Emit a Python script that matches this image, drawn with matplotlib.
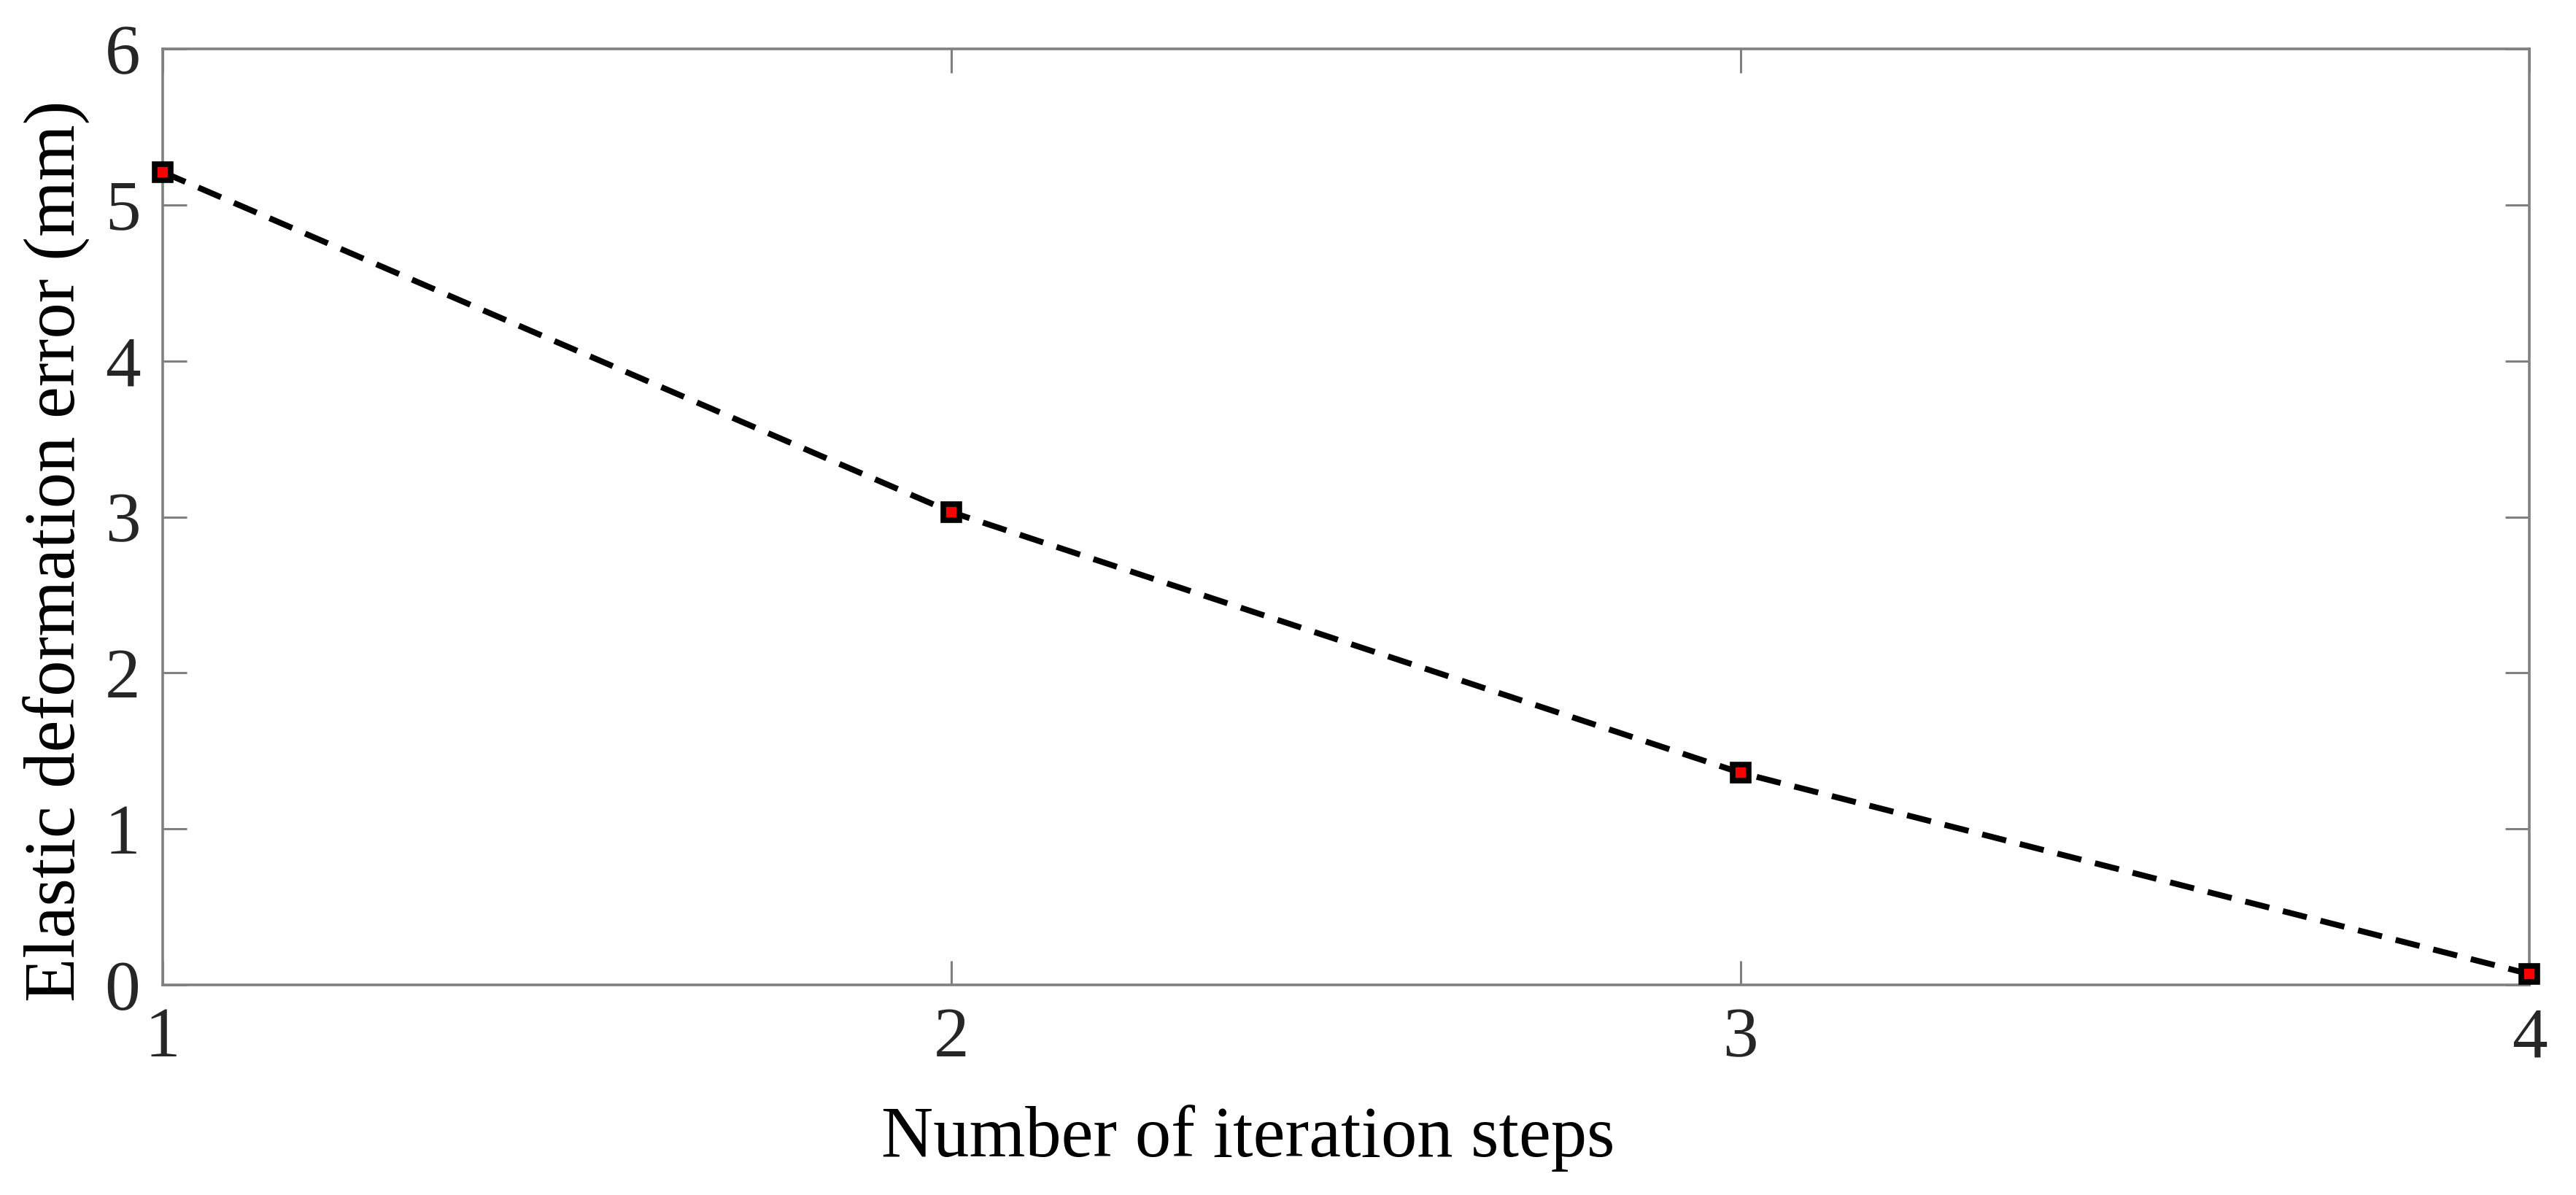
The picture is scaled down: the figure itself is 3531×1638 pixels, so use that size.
import matplotlib.pyplot as plt

# Data
steps = [1, 2, 3, 4]
error_mm = [5.21, 3.03, 1.36, 0.07]
x_ticks = [1, 2, 3, 4]
y_ticks = [0, 1, 2, 3, 4, 5, 6]

plt.rcParams['font.family'] = ['Liberation Serif', 'DejaVu Serif']

fig = plt.figure(figsize=(35.31, 16.38), dpi=100)
W, H = 3531, 1638
left, right, top, bottom = 223, 3467, 67, 1350
ax = fig.add_axes([left / W, 1 - bottom / H, (right - left) / W, (bottom - top) / H])

ax.plot(steps, error_mm, color='black', linewidth=5.8, dashes=(4.2, 2.4),
        marker='s', markersize=16, markerfacecolor='red',
        markeredgecolor='black', markeredgewidth=5.5, clip_on=False, zorder=3)

ax.set_xlim(1, 4)
ax.set_ylim(0, 6)
ax.set_xticks(x_ticks)
ax.set_yticks(y_ticks)
ax.tick_params(direction='in', length=24, width=2.2, color='#808080',
               labelsize=70, labelcolor='#262626', pad=22,
               top=True, right=True)
for s in ax.spines.values():
    s.set_color('#808080')
    s.set_linewidth(2.6)

fig.text(1711 / W, 1 - 1560 / H, 'Number of iteration steps', fontsize=71,
         ha='center', va='center', color='black')
fig.text(78 / W, 1 - 755 / H, 'Elastic deformation error (mm)', fontsize=71,
         ha='center', va='center', rotation=90, color='black')

fig.savefig('out.png', dpi=100)
